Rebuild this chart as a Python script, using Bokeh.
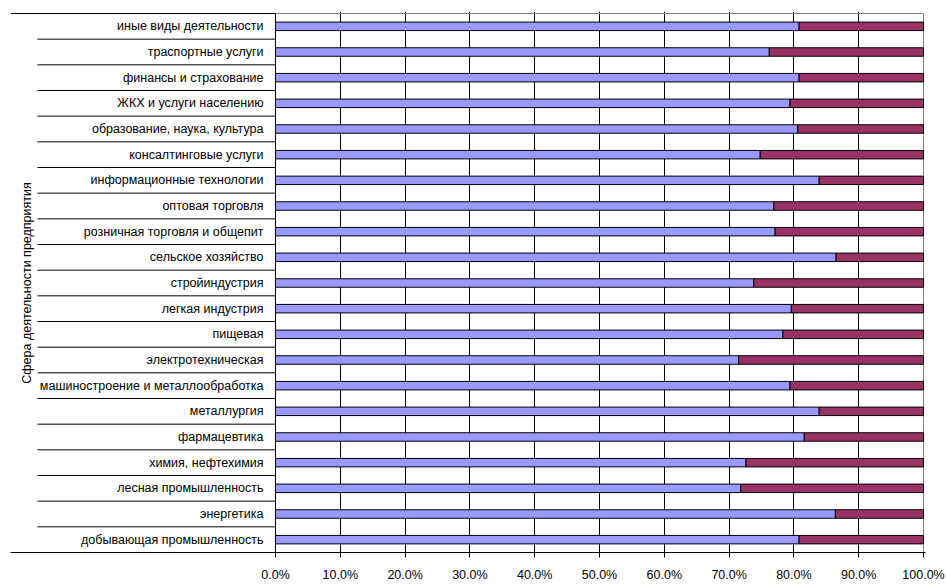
import numpy as np
from bokeh.plotting import figure
from bokeh.models import Range1d, FixedTicker, ColumnDataSource
from bokeh.core.properties import value
from bokeh.embed import file_html
from bokeh.resources import INLINE

# Sectors, listed from top to bottom
categories = [
    "иные виды деятельности",
    "траспортные услуги",
    "финансы и страхование",
    "ЖКХ и услуги населению",
    "образование, наука, культура",
    "консалтинговые услуги",
    "информационные технологии",
    "оптовая торговля",
    "розничная торговля и общепит",
    "сельское хозяйство",
    "стройиндустрия",
    "легкая индустрия",
    "пищевая",
    "электротехническая",
    "машиностроение и металлообработка",
    "металлургия",
    "фармацевтика",
    "химия, нефтехимия",
    "лесная промышленность",
    "энергетика",
    "добывающая промышленность",
]

# Shares of the two series, in percent
series_a = [80.8, 76.2, 80.8, 79.4, 80.6, 74.8, 83.9, 76.9, 77.1, 86.5, 73.8,
            79.6, 78.3, 71.5, 79.4, 83.9, 81.6, 72.6, 71.8, 86.4, 80.8]
series_b = [19.2, 23.8, 19.2, 20.6, 19.4, 25.2, 16.1, 23.1, 22.9, 13.5, 26.2,
            20.4, 21.7, 28.5, 20.6, 16.1, 18.4, 27.4, 28.2, 13.6, 19.2]

x_ticks = [0, 10, 20, 30, 40, 50, 60, 70, 80, 90, 100]
x_tick_labels = ["0.0%", "10.0%", "20.0%", "30.0%", "40.0%", "50.0%",
                 "60.0%", "70.0%", "80.0%", "90.0%", "100.0%"]

axis_title = "Сфера деятельности предприятия"

FONT = "Liberation Sans"
FONT_SIZE = "12.5px"

# Page geometry (pixels)
W, H = 946, 584
frame_left, frame_right = 10, 925
frame_top, frame_bottom = 11, 552
plot_left, plot_right, plot_top = 275, 923, 13   # where 0%, 100% and the top row edge sit
sep_left = 37                                    # left end of the row separators
title_x = 26                                     # centre of the vertical title

n = len(categories)
a = np.array(series_a, dtype=float)
b = np.array(series_b, dtype=float)
a_pct = a / (a + b) * 100.0
centers = [n - i - 0.5 for i in range(n)]
boundaries = [float(k) for k in range(n + 1)]

# The frame also holds the category column, so 0% sits inside it
sx = (plot_right - plot_left) / 100.0
x_start = -(plot_left - frame_left) / sx
x_end = 100.0 + (frame_right - plot_right) / sx
sy = (frame_bottom - plot_top) / n
y_end = n + (plot_top - frame_top) / sy
sep_x = x_start + (sep_left - frame_left) / sx
title_data_x = x_start + (title_x - frame_left) / sx

src = ColumnDataSource(dict(
    y=centers,
    a_end=a_pct,
    zero=np.zeros(n),
    full=np.full(n, 100.0),
    label=categories,
))

p = figure(
    width=W, height=H,
    x_range=Range1d(x_start, x_end), y_range=Range1d(0, y_end),
    output_backend="svg", toolbar_location=None,
    y_axis_location=None,
    min_border_left=frame_left, min_border_right=W - frame_right,
    min_border_top=frame_top, min_border_bottom=H - frame_bottom,
    background_fill_color="white", border_fill_color="white",
)
p.outline_line_color = None

# Vertical gridlines every 10%
p.ygrid.visible = False
p.xgrid.ticker = FixedTicker(ticks=x_ticks[1:-1])
p.xgrid.grid_line_color = "black"
p.xgrid.grid_line_width = 1

# Plot area border: grey top and right edges, black value axis on the left
p.segment(x0=[0, 100], y0=[n, 0], x1=[100, 100], y1=[n, n],
          line_color="#808080", line_width=1)
p.segment(x0=[0], y0=[0], x1=[0], y1=[n], line_color="black", line_width=1)

# Row separators across the category column
inner = boundaries[1:-1]
p.segment(x0=[sep_x] * len(inner), y0=inner, x1=[0] * len(inner), y1=inner,
          line_color="black", line_width=1)
p.segment(x0=[x_start], y0=[n], x1=[0], y1=[n], line_color="black", line_width=1)

# 100% stacked bars
bar_h = 0.33
p.hbar(y="y", left="zero", right="a_end", height=bar_h, source=src,
       fill_color="#9999FF", line_color="black", line_width=1)
p.hbar(y="y", left="a_end", right="full", height=bar_h, source=src,
       fill_color="#993366", line_color="black", line_width=1)

# Category labels, right-aligned against the value axis
p.text(x=0, y="y", text="label", source=src, x_offset=-12,
       text_align="right", text_baseline="middle",
       text_font=value(FONT), text_font_size=FONT_SIZE, text_color="black")

# Vertical axis title
p.text(x=[title_data_x], y=[n / 2.0], text=[axis_title], angle=np.pi / 2,
       text_align="center", text_baseline="middle",
       text_font=value(FONT), text_font_size=FONT_SIZE, text_color="black")

# Bottom percentage axis
xa = p.xaxis[0]
xa.ticker = FixedTicker(ticks=x_ticks)
xa.major_label_overrides = dict(zip(x_ticks, x_tick_labels))
xa.axis_line_color = "black"
xa.major_tick_line_color = "black"
xa.major_tick_out = 5
xa.major_tick_in = 0
xa.minor_tick_line_color = None
xa.major_label_standoff = 10
xa.major_label_text_font = FONT
xa.major_label_text_font_size = FONT_SIZE
xa.major_label_text_color = "black"

open("out.html", "w").write(file_html(p, INLINE))
